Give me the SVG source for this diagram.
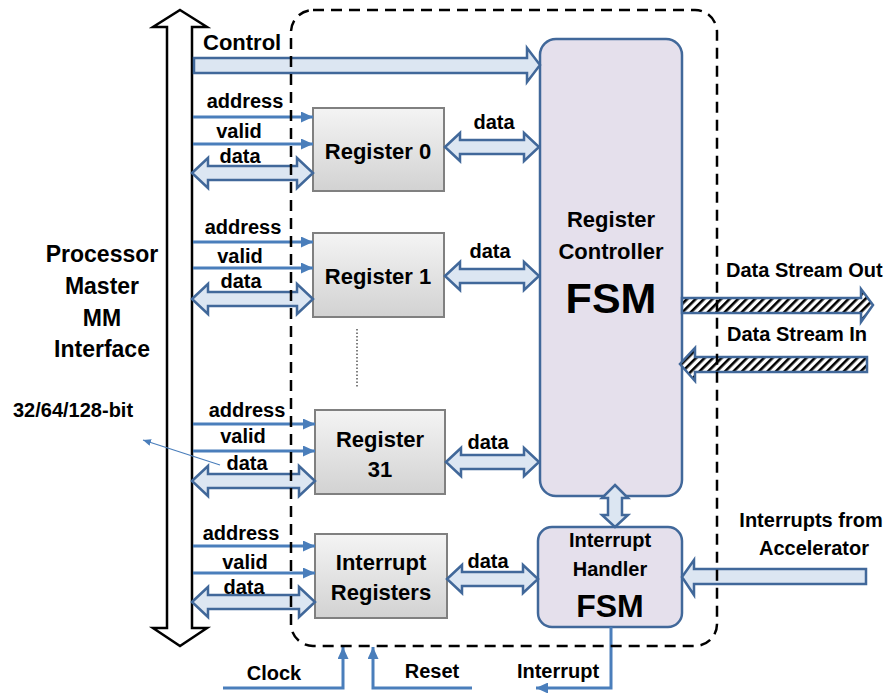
<svg xmlns="http://www.w3.org/2000/svg" width="895" height="693" viewBox="0 0 895 693">
<style>
text{font-family:"Liberation Sans",Arial,sans-serif;font-weight:bold;fill:#000}
.lbl{font-size:20px;text-anchor:middle}
.reg{font-size:22px;text-anchor:middle}
.big{font-size:23px;text-anchor:middle}
.blk{fill:#dce6f2;stroke:#41689a;stroke-width:2.5;stroke-linejoin:miter}
.sig{fill:none;stroke:#4a7ebb;stroke-width:3;marker-end:url(#ah)}
.regbox{fill:url(#gg);stroke:#808080;stroke-width:2}
.fsm{fill:#e5e0ec;stroke:#41689a;stroke-width:2.5}
.hatch{fill:url(#hp);stroke:#41689a;stroke-width:2.5}
</style>
<defs>
<linearGradient id="gg" x1="0" y1="0" x2="0" y2="1">
<stop offset="0" stop-color="#f4f4f4"/><stop offset="1" stop-color="#d2d2d2"/>
</linearGradient>
<pattern id="hp" patternUnits="userSpaceOnUse" width="6" height="6" patternTransform="rotate(45)">
<rect width="6" height="6" fill="#fff"/><rect x="0" y="0" width="2.6" height="6" fill="#000"/>
</pattern>
<marker id="ah" markerUnits="userSpaceOnUse" markerWidth="12" markerHeight="11" refX="12" refY="5.5" orient="auto">
<path d="M0,0 L12,5.5 L0,11 z" fill="#4a7ebb"/>
</marker>
<marker id="ahs" markerUnits="userSpaceOnUse" markerWidth="8" markerHeight="7" refX="8" refY="3.5" orient="auto">
<path d="M0,0 L8,3.5 L0,7 z" fill="#4a7ebb"/>
</marker>
</defs>
<rect width="895" height="693" fill="#fff"/>

<g id="bus">
<polygon points="180,10 207,27 192,27 192,628 207,628 180,646 153,628 167,628 167,27 153,27" fill="#fff" stroke="#000" stroke-width="2.5"/>
</g>

<g id="register0">
<rect class="regbox" x="313" y="108" width="131" height="83"/>
<text class="reg" x="378" y="159">Register 0</text>
</g>
<g id="register1">
<rect class="regbox" x="313" y="233" width="131" height="84"/>
<text class="reg" x="378" y="284">Register 1</text>
</g>
<g id="register31">
<rect class="regbox" x="315" y="410" width="130" height="84"/>
<text class="reg" x="380" y="447">Register</text>
<text class="reg" x="380" y="477">31</text>
</g>
<g id="interruptRegisters">
<rect class="regbox" x="315" y="534" width="132" height="84"/>
<text class="reg" x="381" y="570">Interrupt</text>
<text class="reg" x="381" y="600">Registers</text>
</g>
<g id="registerController">
<rect class="fsm" x="540" y="39" width="142" height="457" rx="16"/>
<text class="reg" x="611" y="227">Register</text>
<text class="reg" x="611" y="259">Controller</text>
<text x="611" y="313" style="font-size:43px;text-anchor:middle">FSM</text>
</g>
<g id="interruptHandler">
<rect class="fsm" x="538" y="527" width="144" height="100" rx="14"/>
<text class="lbl" x="610" y="547">Interrupt</text>
<text class="lbl" x="610" y="576">Handler</text>
<text x="610" y="617" style="font-size:32px;text-anchor:middle">FSM</text>
</g>

<g id="connectors">
<polygon class="blk" points="194,58 527,58 527,48 540,65 527,82 527,73 194,73"/>
<line class="sig" x1="193" y1="117" x2="313" y2="117"/>
<line class="sig" x1="193" y1="144" x2="313" y2="144"/>
<polygon class="blk" points="192,173 208,158 208,166 297,166 297,158 313,173 297,188 297,180 208,180 208,188"/>
<polygon class="blk" points="445,147 460,133 460,140 524,140 524,133 539,147 524,161 524,154 460,154 460,161"/>

<line class="sig" x1="193" y1="242" x2="313" y2="242"/>
<line class="sig" x1="193" y1="268" x2="313" y2="268"/>
<polygon class="blk" points="192,299 208,284 208,292 297,292 297,284 313,299 297,314 297,306 208,306 208,314"/>
<polygon class="blk" points="445,276 460,262 460,269 524,269 524,262 539,276 524,290 524,283 460,283 460,290"/>

<line class="sig" x1="193" y1="424" x2="315" y2="424"/>
<line class="sig" x1="193" y1="451" x2="315" y2="451"/>
<polygon class="blk" points="192,481 208,466 208,474 299,474 299,466 315,481 299,496 299,488 208,488 208,496"/>
<polygon class="blk" points="446,462 461,448 461,455 524,455 524,448 539,462 524,476 524,469 461,469 461,476"/>

<line class="sig" x1="193" y1="546" x2="315" y2="546"/>
<line class="sig" x1="193" y1="573" x2="315" y2="573"/>
<polygon class="blk" points="192,602 208,587 208,595 299,595 299,587 315,602 299,617 299,609 208,609 208,617"/>
<polygon class="blk" points="447,579 462,565 462,572 523,572 523,565 538,579 523,593 523,586 462,586 462,593"/>

<polygon class="blk" points="615,485 628,498 622,498 622,515 628,515 615,527 602,515 608,515 608,498 602,498"/>
<polygon class="blk" points="866,569 694,569 694,560 682,577 694,595 694,584 866,584"/>

<polygon class="hatch" points="682,298 861,298 861,289 873,305 861,322 861,313 682,313"/>
<polygon class="hatch" points="867,357 695,357 695,348 680,364 695,381 695,372 867,372"/>

<polyline class="sig" points="223,688 343,688 343,647"/>
<polyline class="sig" points="472,688 373,688 373,647"/>
<polyline class="sig" points="611,627 611,688 536,688"/>

<line x1="220" y1="465" x2="143" y2="440" stroke="#4a7ebb" stroke-width="1.2" marker-end="url(#ahs)"/>
<line x1="357" y1="329" x2="357" y2="388" stroke="#555" stroke-width="1.5" stroke-dasharray="1.5 2"/>
</g>

<g id="boundary">
<rect x="291" y="10" width="426" height="636" rx="22" fill="none" stroke="#000" stroke-width="2.5" stroke-dasharray="11 7"/>
</g>

<g id="labels">
<text x="203" y="50" style="font-size:22px">Control</text>
<text class="lbl" x="245" y="108">address</text>
<text class="lbl" x="239" y="138">valid</text>
<text class="lbl" x="240" y="163">data</text>
<text class="lbl" x="494" y="129">data</text>
<text class="lbl" x="243" y="234">address</text>
<text class="lbl" x="240" y="263">valid</text>
<text class="lbl" x="241" y="288">data</text>
<text class="lbl" x="490" y="258">data</text>
<text class="lbl" x="247" y="417">address</text>
<text class="lbl" x="243" y="443">valid</text>
<text class="lbl" x="247" y="470">data</text>
<text class="lbl" x="488" y="449">data</text>
<text class="lbl" x="241" y="540">address</text>
<text class="lbl" x="245" y="569">valid</text>
<text class="lbl" x="244" y="594">data</text>
<text class="lbl" x="488" y="568">data</text>
<text class="big" x="102" y="262">Processor</text>
<text class="big" x="102" y="294">Master</text>
<text class="big" x="102" y="326">MM</text>
<text class="big" x="102" y="357">Interface</text>
<text x="13" y="417" style="font-size:20px">32/64/128-bit</text>
<text x="726" y="277" style="font-size:20px">Data Stream Out</text>
<text x="727" y="341" style="font-size:20px">Data Stream In</text>
<text class="lbl" x="811" y="527">Interrupts from</text>
<text class="lbl" x="814" y="555">Accelerator</text>
<text class="lbl" x="274" y="680">Clock</text>
<text class="lbl" x="432" y="678">Reset</text>
<text class="lbl" x="558" y="678">Interrupt</text>
</g>
</svg>
